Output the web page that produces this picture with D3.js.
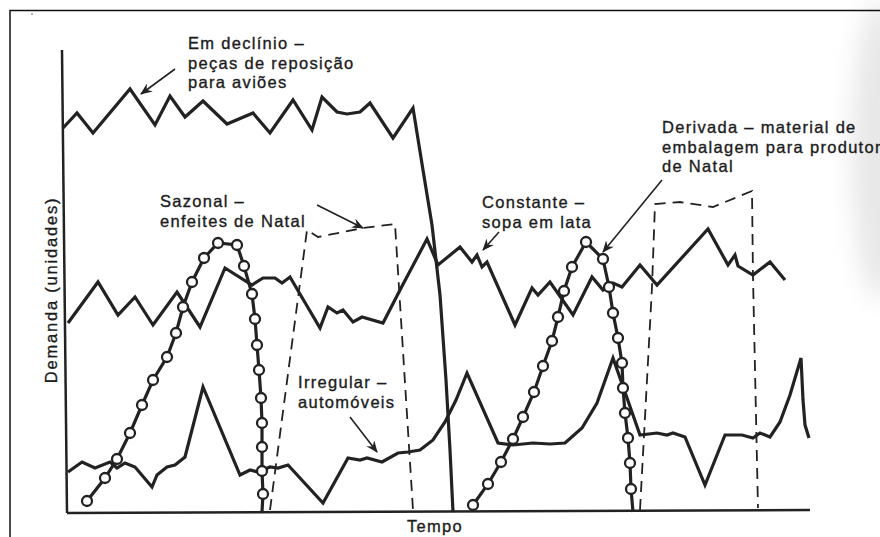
<!DOCTYPE html>
<html lang="pt">
<head>
<meta charset="UTF-8">
<title>Padrões de demanda</title>
<script src="https://d3js.org/d3.v7.min.js"></script>
<style>
  html, body { margin: 0; background: #fff; overflow: hidden; }
  text { font-family: "Liberation Sans", Arial, sans-serif; font-size: 16.5px; letter-spacing: 1.3px; fill: #1c1c1c; stroke: #1c1c1c; stroke-width: 0.35px; }
</style>
</head>
<body>
<svg id="svg"></svg>
<script>
// tempo 0..745, demanda 0..500 (unidades arbitrárias, o original não tem escalas)
const emDeclinio = [[-2,384],[12,399],[28,379],[65,423],[90,387],[105,416],[120,395],[138,411],[162,388],[188,399],[205,379],[228,412],[247,382],[257,415],[272,400],[282,398],[295,400],[305,409],[328,374],[348,404],[358,342],[367,287],[375,217],[381,132],[385,62],[388,0]];

const constante = [[3,189],[33,230],[53,197],[70,215],[88,187],[112,220],[135,185],[160,244],[187,227],[198,234],[210,234],[217,229],[225,235],[255,184],[263,205],[272,199],[278,202],[288,190],[297,195],[318,189],[335,222],[362,273],[373,247],[395,265],[407,250],[412,257],[417,245],[422,250],[450,187],[467,224],[473,217],[485,230],[508,197],[527,235],[538,222],[548,229],[557,225],[575,247],[592,227],[643,283],[663,247],[670,257],[673,246],[688,237],[705,250],[720,232]];

const irregular = [[3,40],[17,50],[30,44],[45,50],[52,44],[60,49],[70,45],[87,25],[92,37],[102,45],[110,47],[120,55],[138,125],[175,37],[185,42],[193,40],[205,45],[213,44],[223,47],[258,9],[283,54],[295,52],[302,54],[317,50],[333,59],[343,60],[355,62],[368,72],[380,90],[391,112],[402,139],[433,69],[448,67],[468,69],[485,68],[500,69],[517,84],[532,109],[548,154],[575,77],[592,79],[602,77],[608,79],[620,75],[640,27],[660,77],[677,77],[688,74],[695,79],[705,75],[715,90],[725,117],[736,154],[738,112],[740,87],[744,74]];

// enfeites de Natal (tracejado)
const sazonal1 = [[205,2],[242,282],[253,275],[298,284],[330,288],[348,2]];
const sazonal2 = [[575,2],[587,225],[590,308],[602,309],[615,310],[648,305],[687,321],[688,235],[693,4]];

// material de embalagem (círculos); último ponto = fim no eixo
const derivada1 = [[22,11],[40,34],[52,53],[65,79],[77,107],[88,132],[102,155],[111,179],[118,205],[127,230],[139,254],[153,269],[172,267],[179,246],[187,218],[190,193],[192,167],[194,142],[196,114],[197,89],[197,65],[197,41],[198,18],[197,0]];
const derivada2 = [[408,7],[423,28],[436,50],[448,73],[458,95],[469,120],[478,146],[487,171],[493,195],[499,221],[507,245],[521,270],[538,253],[544,225],[548,199],[553,174],[557,149],[558,124],[560,99],[563,74],[565,49],[566,23],[568,0]];

const labels = [
  { lines: ["Em declínio –", "peças de reposição", "para aviões"], x: 123, y: 463 },
  { lines: ["Sazonal –", "enfeites de Natal"], x: 95, y: 305 },
  { lines: ["Constante –", "sopa em lata"], x: 417, y: 304 },
  { lines: ["Derivada – material de", "embalagem para produtor", "de Natal"], x: 597, y: 379 },
  { lines: ["Irregular –", "automóveis"], x: 233, y: 124 }
];
const arrows = [
  [[110,443],[76,418]],
  [[252,307],[298,284]],
  [[434,280],[418,262]],
  [[597,332],[538,260]],
  [[285,95],[312,60]]
];

const W = 880, H = 537;
const svg = d3.select("#svg").attr("width", W).attr("height", H);
const x = d3.scaleLinear().domain([0, 745]).range([65, 810]);
const y = d3.scaleLinear().domain([0, 500]).range([512, 12]);
const ink = "#222";

const defs = svg.append("defs");
defs.append("filter").attr("id", "blur").attr("x", "-50%").attr("width", "200%")
  .append("feGaussianBlur").attr("stdDeviation", 12);
defs.append("marker").attr("id", "head")
  .attr("viewBox", "0 0 12 10").attr("refX", 11).attr("refY", 5)
  .attr("markerWidth", 12).attr("markerHeight", 10)
  .attr("markerUnits", "userSpaceOnUse").attr("orient", "auto")
  .append("path").attr("d", "M0,0 L12,5 L0,10 L4,5 Z").attr("fill", ink);

// mancha cinza do scan à direita
svg.append("ellipse").attr("cx", 880).attr("cy", 150).attr("rx", 28).attr("ry", 150)
  .attr("fill", "#d4d4d4").attr("opacity", 0.55).attr("filter", "url(#blur)");

// moldura
svg.append("path").attr("d", "M10,537 L10,10.5 L880,10.5")
  .attr("fill", "none").attr("stroke", "#111").attr("stroke-width", 1.5);
svg.append("circle").attr("cx", 32).attr("cy", 14).attr("r", 0.8).attr("fill", "#555");

// eixos
svg.append("line").attr("x1", x(-3)).attr("y1", 50).attr("x2", x(2)).attr("y2", y(-1))
  .attr("stroke", ink).attr("stroke-width", 2.5);
svg.append("line").attr("x1", x(2)).attr("y1", y(-1)).attr("x2", x(745)).attr("y2", y(2))
  .attr("stroke", ink).attr("stroke-width", 2.5);

const line = d3.line().x(d => x(d[0])).y(d => y(d[1]));

[sazonal1, sazonal2].forEach(s => {
  svg.append("path").attr("d", line(s)).attr("fill", "none")
    .attr("stroke", ink).attr("stroke-width", 1.8).attr("stroke-dasharray", "11,7");
});

[emDeclinio, constante, irregular].forEach(s => {
  svg.append("path").attr("d", line(s)).attr("fill", "none")
    .attr("stroke", ink).attr("stroke-width", 3.2).attr("stroke-linejoin", "miter");
});

[derivada1, derivada2].forEach(s => {
  svg.append("path").attr("d", line(s)).attr("fill", "none")
    .attr("stroke", ink).attr("stroke-width", 3.2);
  svg.append("g").selectAll("circle").data(s.slice(0, -1)).join("circle")
    .attr("cx", d => x(d[0])).attr("cy", d => y(d[1])).attr("r", 5)
    .attr("fill", "#fff").attr("stroke", ink).attr("stroke-width", 2.3);
});

// setas das legendas
svg.append("g").selectAll("line").data(arrows).join("line")
  .attr("x1", d => x(d[0][0])).attr("y1", d => y(d[0][1]))
  .attr("x2", d => x(d[1][0])).attr("y2", d => y(d[1][1]))
  .attr("stroke", ink).attr("stroke-width", 1.6).attr("marker-end", "url(#head)");

labels.forEach(l => {
  const t = svg.append("text").attr("x", x(l.x)).attr("y", y(l.y));
  l.lines.forEach((s, i) => {
    t.append("tspan").attr("x", x(l.x)).attr("dy", i ? 19.5 : 0).text(s);
  });
});

svg.append("text").attr("transform", "translate(57,290) rotate(-90)")
  .attr("text-anchor", "middle").style("letter-spacing", "1.8px").text("Demanda (unidades)");
svg.append("text").attr("x", 435).attr("y", 532).attr("text-anchor", "middle").text("Tempo");
</script>
</body>
</html>
